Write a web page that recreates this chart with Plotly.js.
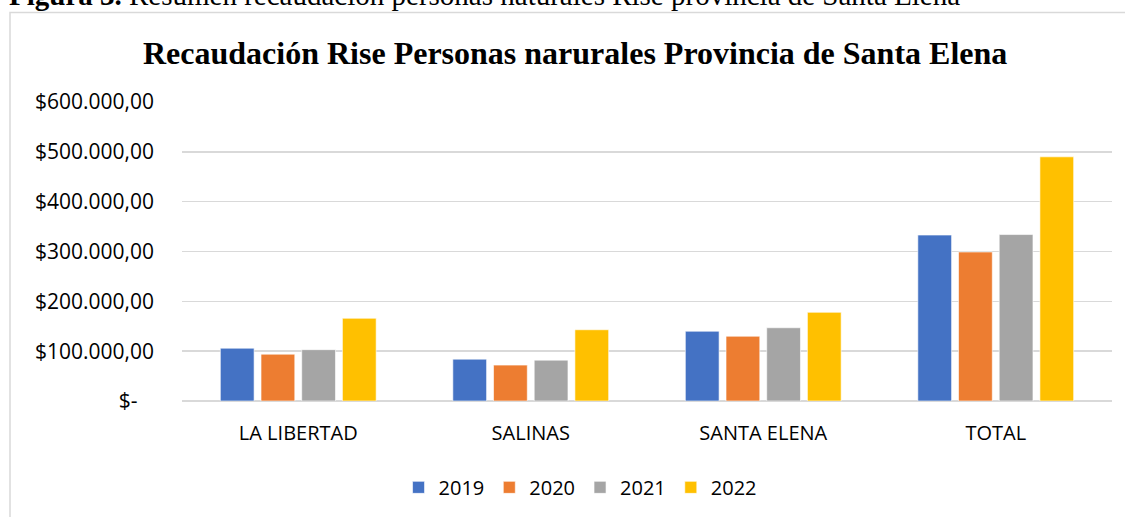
<!DOCTYPE html>
<html>
<head>
<meta charset="utf-8">
<script src="https://cdn.plot.ly/plotly-3.0.1.min.js"></script>
<style>html,body{margin:0;padding:0;background:#fff;}#chart{width:1125px;height:517px;}</style>
</head>
<body>
<div id="chart"></div>
<script>
const categories = ["LA LIBERTAD", "SALINAS", "SANTA ELENA", "TOTAL"];
const years = ["2019", "2020", "2021", "2022"];
const v2019 = [106000, 84000, 140000, 333000];
const v2020 = [94000, 72000, 130000, 299000];
const v2021 = [103000, 82000, 147000, 334000];
const v2022 = [166000, 143000, 178000, 490000];
const colors = ["#4472C4", "#ED7D31", "#A5A5A5", "#FFC000"];
const tickVals = [0, 100000, 200000, 300000, 400000, 500000, 600000];
const tickText = ["$-\u00a0\u00a0\u00a0", "$100.000,00", "$200.000,00", "$300.000,00", "$400.000,00", "$500.000,00", "$600.000,00"];

const series = [v2019, v2020, v2021, v2022];
const font = "Open Sans, sans-serif";
const traces = series.map((vals, i) => ({
  type: "bar",
  name: years[i],
  x: categories,
  y: vals,
  marker: {color: colors[i], line: {color: "rgba(255,255,255,0.6)", width: 1}},
  hoverinfo: "skip"
}));

const L = 182, R = 13, T = 102, B = 114.5;
const pw = 1125 - L - R, ph = 517 - T - B;
const px = v => (v - L) / pw;
const py = v => (517 - B - v) / ph;

const layout = {
  width: 1125, height: 517,
  margin: {l: L, r: R, t: T, b: B},
  paper_bgcolor: "#fff", plot_bgcolor: "#fff",
  barmode: "group", bargap: 0.3, bargroupgap: 0.17,
  font: {family: font, size: 20, color: "#000"},
  showlegend: true,
  legend: {orientation: "h", x: 0.428, xanchor: "center", y: py(488), yanchor: "middle",
           font: {family: font, size: 20, color: "#000"}, traceorder: "normal", itemwidth: 30},
  xaxis: {showgrid: false, showline: false, ticks: "", ticklabelstandoff: 18,
          tickfont: {family: font, size: 20, color: "#000"}},
  yaxis: {range: [0, 600000], tickvals: tickVals, ticktext: tickText, showgrid: true,
          gridcolor: "#D9D9D9", gridwidth: 1.5, zeroline: true, zerolinecolor: "#D9D9D9", zerolinewidth: 1.5,
          showline: false, ticks: "", ticklabelstandoff: 27, fixedrange: true,
          tickfont: {family: font, size: 21, color: "#000"}},
  shapes: [
    {type: "rect", xref: "paper", yref: "paper", x0: px(10), x1: px(1135), y0: py(12), y1: py(540),
     line: {color: "#D9D9D9", width: 1.5}, fillcolor: "rgba(0,0,0,0)", layer: "below"}
  ],
  annotations: [
    {xref: "paper", yref: "paper", x: px(575), y: py(53), xanchor: "center", yanchor: "middle", showarrow: false,
     text: "<b>Recaudación Rise Personas narurales Provincia de Santa Elena</b>",
     font: {family: "Liberation Serif, Times New Roman, serif", size: 32, color: "#000"}},
    {xref: "paper", yref: "paper", x: px(7), y: py(13), xanchor: "left", yanchor: "bottom", showarrow: false,
     text: "<b>Figura 3.</b> Resumen recaudación personas naturales Rise provincia de Santa Elena",
     font: {family: "Liberation Serif, Times New Roman, serif", size: 29, color: "#000"}}
  ]
};

Plotly.newPlot("chart", traces, layout, {displayModeBar: false, staticPlot: true});
</script>
</body>
</html>
